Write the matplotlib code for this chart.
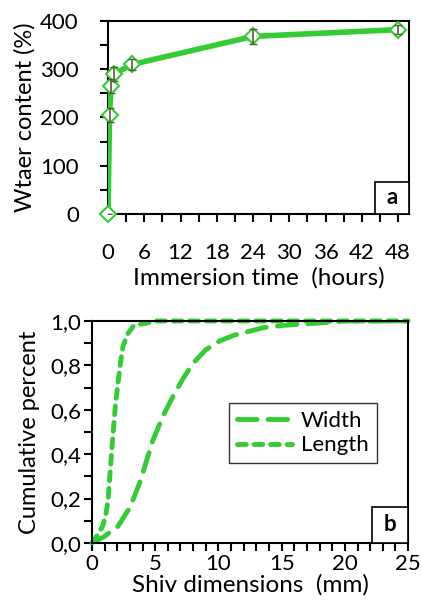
import matplotlib.pyplot as plt
from matplotlib.patches import Rectangle
from matplotlib.ticker import MultipleLocator, FuncFormatter

plt.rcParams['font.family'] = ['Lato', 'DejaVu Sans']

green = '#33cc33'

# panel a: water uptake
time_h = [0, 0.25, 0.5, 1, 4, 24, 48]
water = [0, 205, 265, 290, 310, 368, 382]
water_err = [0, 15, 15, 15, 12, 15, 10]

# panel b: cumulative size distribution
width_mm = [0, 1.0, 2.05, 3.0, 3.77, 4.8, 5.6, 6.4, 7.2, 8.0, 9.0, 10.1, 11.2, 12.2, 13.6, 15.1, 17.8, 20, 25]
width_cum = [0, 0.03, 0.075, 0.16, 0.27, 0.46, 0.57, 0.66, 0.74, 0.81, 0.87, 0.91, 0.935, 0.95, 0.97, 0.98, 0.99, 1.0, 1.0]
length_mm = [0, 0.5, 0.87, 1.1, 1.27, 1.45, 1.66, 1.85, 2.06, 2.25, 2.45, 2.8, 3.25, 3.8, 4.3, 5, 10, 25]
length_cum = [0, 0.04, 0.08, 0.13, 0.195, 0.33, 0.49, 0.62, 0.72, 0.81, 0.885, 0.94, 0.975, 0.985, 0.99, 1.0, 1.0, 1.0]


def panel_tag(ax, letter, w, h):
    # boxed panel letter sitting in the lower right corner
    ax.add_patch(Rectangle((1 - w, 0), w, h, transform=ax.transAxes,
                           fc='white', ec='black', lw=1.2, zorder=6))
    ax.text(1 - w / 2, h / 2, letter, transform=ax.transAxes, fontsize=16,
            fontweight='bold', ha='center', va='center', zorder=7)


fig = plt.figure(figsize=(4.22, 6.09), dpi=100)

ax1 = fig.add_axes([0.256, 0.6486, 0.713, 0.317])
ax1.plot(time_h, water, color=green, lw=4, zorder=3)
ax1.plot(time_h, water, 'D', mfc='white', mec=green, mew=1.5, ms=8.5,
         ls='none', clip_on=False, zorder=4)
ax1.errorbar(time_h, water, yerr=water_err, fmt='none', ecolor='#5a5a3a',
             elinewidth=1.2, capsize=3, zorder=5)
ax1.set_xlim(0, 49.8)
ax1.set_ylim(0, 400)
ax1.xaxis.set_major_locator(MultipleLocator(6))
ax1.xaxis.set_minor_locator(MultipleLocator(3))
ax1.yaxis.set_major_locator(MultipleLocator(100))
ax1.yaxis.set_minor_locator(MultipleLocator(50))
ax1.tick_params(axis='x', which='major', pad=15)
ax1.tick_params(axis='y', which='major', pad=15)
ax1.set_xlabel('Immersion time  (hours)', fontsize=17.5, labelpad=3)
ax1.set_ylabel('Wtaer content (%)', fontsize=17, labelpad=3)
panel_tag(ax1, 'a', 0.113, 0.166)

ax2 = fig.add_axes([0.218, 0.1084, 0.749, 0.3646])
ax2.plot(width_mm, width_cum, color=green, lw=3.5, dashes=(4, 2.3),
         dash_capstyle='round', label='Width')
ax2.plot(length_mm, length_cum, color=green, lw=3.5, dashes=(1.8, 1.6),
         dash_capstyle='round', label='Length', clip_on=False)
ax2.set_xlim(0, 25)
ax2.set_ylim(0, 1)
ax2.xaxis.set_major_locator(MultipleLocator(5))
ax2.xaxis.set_minor_locator(MultipleLocator(1))
ax2.yaxis.set_major_locator(MultipleLocator(0.2))
ax2.yaxis.set_minor_locator(MultipleLocator(0.1))
ax2.yaxis.set_major_formatter(FuncFormatter(lambda v, p: f'{v:.1f}'.replace('.', ',')))
ax2.tick_params(which='major', pad=2)
ax2.set_xlabel('Shiv dimensions  (mm)', fontsize=17.5, labelpad=0)
ax2.set_ylabel('Cumulative percent', fontsize=17, labelpad=7)
leg = ax2.legend(loc='upper left', bbox_to_anchor=(0.433, 0.63), fontsize=16,
                 frameon=True, fancybox=False, handlelength=2.5, borderpad=0.35,
                 labelspacing=0.2, handletextpad=0.4, borderaxespad=0)
leg.get_frame().set_edgecolor('black')
leg.get_frame().set_linewidth(1)
panel_tag(ax2, 'b', 0.114, 0.162)

for ax in (ax1, ax2):
    for s in ax.spines.values():
        s.set_linewidth(1.5)
    ax.tick_params(which='both', direction='out', width=1.5, labelsize=16)
    ax.tick_params(which='major', length=6)
    ax.tick_params(which='minor', length=6)

fig.savefig('out.png', dpi=100)
